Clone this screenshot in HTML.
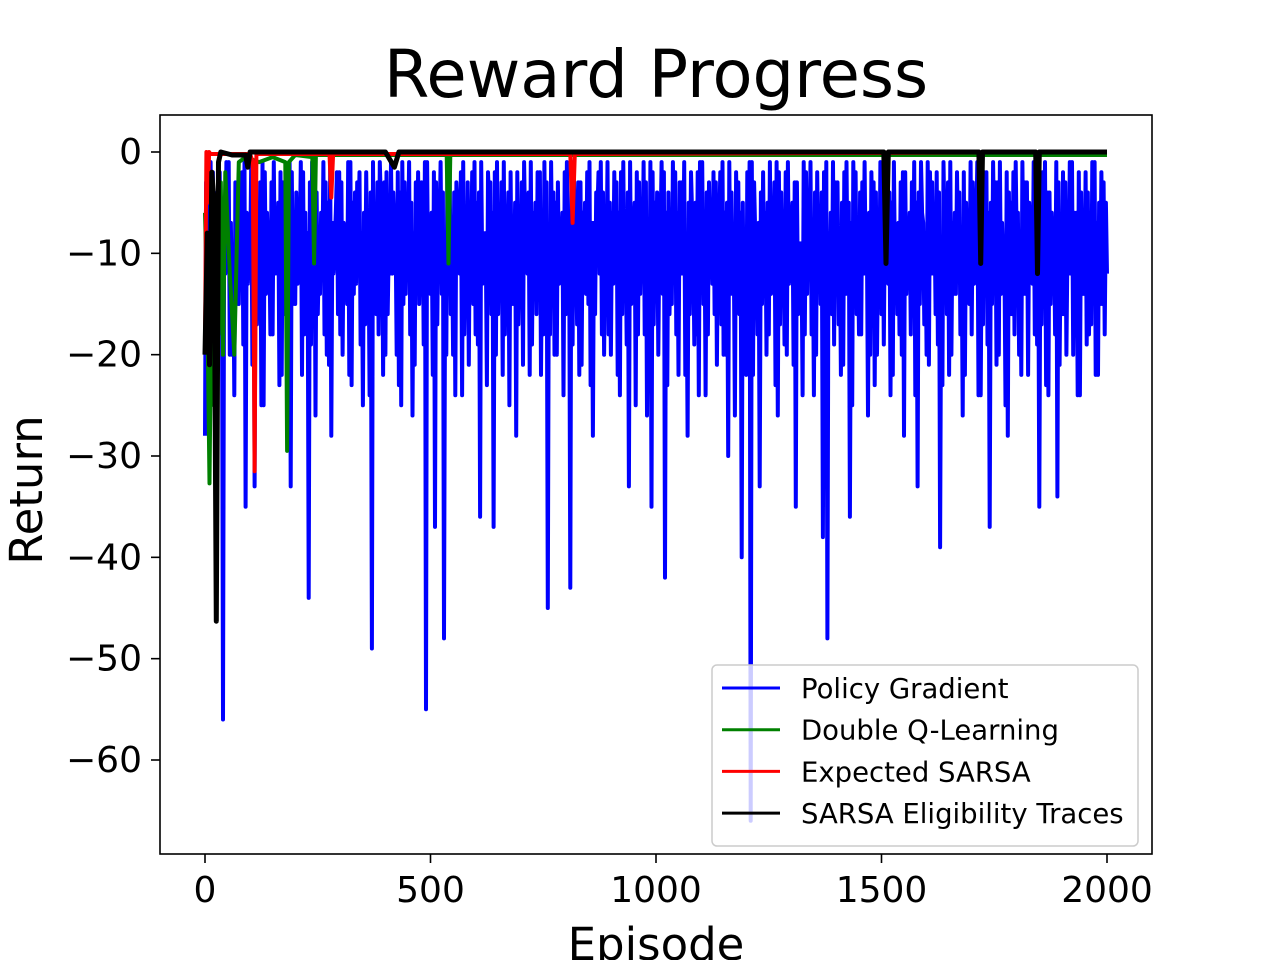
<!DOCTYPE html>
<html><head><meta charset="utf-8"><style>
body{margin:0;background:#fff;}
svg text{font-family:"DejaVu Sans","Liberation Sans",sans-serif;fill:#000;}
</style></head><body>
<svg id="chart" width="1280" height="960" viewBox="0 0 1280 960" xmlns="http://www.w3.org/2000/svg">
<rect width="1280" height="960" fill="#fff"/>
<text x="656" y="97" font-size="65.5" text-anchor="middle">Reward Progress</text>
<defs><clipPath id="plotclip"><rect x="160" y="115" width="992" height="739"/></clipPath></defs>
<g id="series" clip-path="url(#plotclip)"></g>
<rect x="160" y="115" width="992" height="739" fill="none" stroke="#000" stroke-width="1.6"/>
<g id="axes"></g>
<text transform="translate(42,490) rotate(-90)" font-size="45" text-anchor="middle">Return</text>
<text x="656" y="960" font-size="45" text-anchor="middle">Episode</text>
<g>
<rect x="712" y="665" width="426" height="181" rx="5" fill="#fff" fill-opacity="0.8" stroke="#ccc" stroke-width="1.5"/>
</g>
<g id="legend-entries"></g>
</svg>
<script>
const xTicks=[0,500,1000,1500,2000];
const yTicks=[0,-10,-20,-30,-40,-50,-60];
const seriesNames=["Policy Gradient","Double Q-Learning","Expected SARSA","SARSA Eligibility Traces"];
const seriesColors=["#0000ff","#008000","#ff0000","#000000"];
const blueLows=[-28,-5,-25,-12,-56,-10,-20,-15,-8,-35,
-12,-33,-14,-25,-10,-18,-12,-22,-9,-33,
-15,-10,-18,-44,-8,-16,-12,-20,-28,-6,
-18,-10,-22,-14,-8,-25,-12,-49,-16,-5,
-20,-12,-8,-23,-15,-10,-26,-12,-3,-55,
-14,-37,-8,-48,-12,-20,-6,-24,-14,-10,
-18,-36,-12,-5,-37,-16,-22,-10,-15,-28,
-12,-8,-22,-14,-6,-18,-45,-12,-20,-10,
-16,-43,-8,-22,-12,-15,-28,-6,-18,-12,
-20,-10,-24,-14,-33,-8,-18,-12,-26,-35,
-14,-8,-42,-16,-10,-22,-12,-28,-6,-18,
-12,-24,-10,-16,-8,-20,-30,-14,-10,-40,
-22,-66,-8,-33,-14,-18,-10,-26,-12,-20,
-8,-35,-14,-18,-10,-24,-12,-38,-48,-16,
-10,-22,-14,-36,-8,-18,-12,-26,-10,-20,
-16,-8,-24,-12,-18,-28,-10,-14,-33,-6,
-20,-12,-16,-39,-8,-22,-14,-10,-26,-12,
-18,-8,-24,-14,-37,-10,-20,-12,-28,-16,
-10,-22,-14,-8,-18,-35,-12,-24,-10,-34,
-16,-20,-12,-8,-24,-14,-18,-10,-22,-15,-12];
const blueHighs=[-3,-1,-8,-2,-5,-1,-10,-4,-2,-6,
-1,-7,-3,-2,-9,-1,-5,-3,-8,-2,
-4,-1,-6,-3,-2,-10,-1,-5,-7,-2,
-3,-8,-1,-4,-2,-6,-9,-1,-3,-5,
-2,-1,-7,-4,-3,-1,-8,-2,-5,-1,
-6,-3,-1,-9,-2,-4,-7,-1,-3,-2,
-5,-1,-8,-3,-2,-6,-1,-4,-10,-2,
-3,-7,-1,-5,-2,-1,-8,-4,-3,-6,
-1,-2,-9,-3,-5,-1,-7,-2,-4,-1,
-6,-3,-2,-8,-1,-5,-3,-1,-7,-2,
-4,-1,-6,-9,-2,-3,-1,-5,-8,-2,
-1,-4,-7,-3,-2,-6,-1,-10,-3,-5,
-2,-1,-8,-4,-6,-1,-3,-2,-7,-1,
-5,-3,-9,-2,-1,-4,-6,-2,-8,-1,
-3,-5,-1,-7,-2,-4,-1,-6,-3,-9,
-2,-1,-5,-8,-3,-2,-6,-1,-4,-7,
-1,-3,-2,-9,-5,-1,-6,-4,-2,-8,
-3,-1,-7,-2,-5,-3,-1,-10,-4,-2,
-6,-1,-3,-8,-2,-5,-1,-4,-7,-3,
-2,-9,-1,-6,-4,-2,-8,-1,-5,-3];
const blueMidLows=[-18,-14,-22,-16,-12,-20,-24,-15,-19,-13,
-21,-17,-25,-14,-18,-12,-23,-16,-20,-15,
-13,-22,-17,-19,-26,-14,-18,-21,-12,-16,
-20,-15,-23,-13,-19,-17,-24,-14,-18,-22,
-16,-12,-20,-25,-14,-18,-21,-15,-19,-13,
-22,-17,-14,-20,-16,-24,-12,-18,-21,-15,
-19,-13,-23,-16,-20,-14,-18,-25,-15,-17,
-21,-12,-19,-16,-22,-14,-18,-20,-13,-24,
-15,-19,-17,-21,-14,-23,-16,-12,-20,-18,
-13,-22,-16,-19,-15,-25,-14,-18,-21,-17,
-20,-14,-23,-15,-18,-12,-22,-16,-19,-24,
-15,-18,-13,-21,-17,-20,-14,-26,-16,-19,
-12,-22,-18,-15,-20,-14,-23,-17,-19,-13,
-21,-16,-24,-14,-18,-20,-15,-22,-13,-19,
-17,-21,-14,-25,-16,-18,-12,-20,-23,-15,
-19,-13,-22,-16,-20,-14,-18,-24,-15,-17,
-21,-12,-19,-23,-16,-20,-14,-18,-22,-15,
-13,-24,-17,-19,-15,-21,-14,-25,-16,-18,
-20,-14,-22,-13,-19,-17,-23,-15,-18,-21,
-16,-12,-20,-24,-14,-19,-17,-22,-15,-18];
const blueHighs2=[-6,-2,-4,-9,-1,-7,-3,-5,-1,-8,
-2,-5,-1,-6,-3,-9,-2,-4,-1,-7,
-5,-2,-8,-1,-4,-6,-3,-1,-9,-2,
-7,-1,-5,-3,-8,-2,-4,-6,-1,-3,
-9,-4,-2,-1,-6,-5,-3,-7,-1,-8,
-2,-6,-4,-1,-7,-3,-2,-9,-5,-1,
-4,-8,-2,-6,-1,-3,-7,-2,-5,-9,
-1,-4,-6,-2,-8,-3,-1,-5,-7,-2,
-9,-1,-3,-6,-2,-7,-4,-1,-8,-5,
-2,-6,-1,-4,-9,-2,-7,-3,-1,-5,
-8,-2,-4,-1,-6,-3,-9,-2,-5,-1,
-7,-3,-2,-8,-1,-5,-4,-2,-6,-9,
-1,-3,-7,-2,-5,-8,-1,-4,-2,-6,
-3,-9,-1,-5,-7,-2,-4,-1,-6,-3,
-8,-2,-5,-1,-9,-3,-7,-2,-4,-1,
-6,-4,-1,-7,-2,-9,-3,-5,-1,-8,
-2,-6,-4,-1,-3,-7,-2,-9,-5,-1,
-4,-8,-2,-6,-1,-3,-7,-2,-5,-1,
-9,-3,-5,-1,-7,-2,-4,-6,-1,-8,
-3,-1,-6,-2,-9,-4,-1,-7,-2,-5];
const greenEpisodes=[0,5,10,15,20,25,30,35,40,45,55,65,75,90,120,150,178,182,186,200,238,242,246,300,536,540,544,600,1000,1500,2000];
const greenValues=[-6,-15,-32.7,-10,-25,-5,-18,-3,-20,-2,-12,-20,-1,-0.5,-1,-0.5,-1,-29.5,-1,-0.3,-0.5,-11,-0.3,-0.3,-0.3,-11,-0.3,-0.3,-0.3,-0.3,-0.3];
const redEpisodes=[0,3,6,9,12,100,106,110,114,276,280,284,810,815,820,2000];
const redValues=[-19,0,-5,0,-0.2,-0.2,-1,-31.5,-0.2,-0.2,-4.5,-0.2,-0.2,-7,-0.2,0];
const blackEpisodes=[0,5,10,15,20,25,30,35,60,90,95,100,200,400,420,430,700,900,1200,1505,1510,1515,1716,1720,1724,1842,1846,1850,1950,2000];
const blackValues=[-20,-8,-21,-2,-5,-46.3,-1,0,-0.3,-0.3,-1.5,0,0,0,-1.5,0,0,0,0,0,-11,0,0,-11,0,0,-12,0,0,0];
const X=v=>205+v*(1107-205)/2000;
const Y=v=>152+(-v)*(760-152)/60;
const NS="http://www.w3.org/2000/svg";
const axes=document.getElementById('axes');
xTicks.forEach(t=>{
 const l=document.createElementNS(NS,'line');
 
 
 l.setAttribute('x1',X(t));l.setAttribute('x2',X(t));l.setAttribute('y1',854);l.setAttribute('y2',863);l.setAttribute('stroke','#000');l.setAttribute('stroke-width','1.6');axes.appendChild(l);
 const tx=document.createElementNS(NS,'text');
 
 
 tx.setAttribute('x',X(t));tx.setAttribute('y',902);tx.setAttribute('font-size','36');tx.setAttribute('text-anchor','middle');tx.textContent=t;axes.appendChild(tx);
});
yTicks.forEach(t=>{
 const l=document.createElementNS(NS,'line');
 
 
 l.setAttribute('x1',151);l.setAttribute('x2',160);l.setAttribute('y1',Y(t));l.setAttribute('y2',Y(t));l.setAttribute('stroke','#000');l.setAttribute('stroke-width','1.6');axes.appendChild(l);
 const tx=document.createElementNS(NS,'text');
 
 
 tx.setAttribute('x',142);tx.setAttribute('y',Y(t)+12);tx.setAttribute('font-size','36');tx.setAttribute('text-anchor','end');tx.textContent=(t<0?'\u2212'+(-t):t);axes.appendChild(tx);
});
const blueEp=[],blueVal=[];
blueLows.forEach((v,i)=>{
 blueEp.push(i*10);blueVal.push(v);
 if(i<blueHighs.length){
  blueEp.push(i*10+2.5);blueVal.push(blueHighs[i]);
  blueEp.push(i*10+5);blueVal.push(blueMidLows[i]);
  blueEp.push(i*10+7.5);blueVal.push(blueHighs2[i]);
 }
});
const g=document.getElementById('series');
function drawLine(eps,vals,color,name,w){
 const p=document.createElementNS(NS,'polyline');
 
 
 p.setAttribute('points',eps.map((e,i)=>X(e).toFixed(1)+','+Y(vals[i]).toFixed(1)).join(' '));
 p.setAttribute('fill','none');p.setAttribute('stroke',color);p.setAttribute('stroke-width',w);p.setAttribute('stroke-linejoin','round');
 g.appendChild(p);
}
drawLine(blueEp,blueVal,seriesColors[0],'policy-gradient-line',4);
drawLine(greenEpisodes,greenValues,seriesColors[1],'double-q-learning-line',4);
drawLine(redEpisodes,redValues,seriesColors[2],'expected-sarsa-line',4);
drawLine(blackEpisodes,blackValues,seriesColors[3],'sarsa-eligibility-traces-line',5);
const le=document.getElementById('legend-entries');
seriesNames.forEach((n,i)=>{
 const y=688+i*41.7;
 const l=document.createElementNS(NS,'line');
 
 
 l.setAttribute('x1',722);l.setAttribute('x2',780);l.setAttribute('y1',y);l.setAttribute('y2',y);l.setAttribute('stroke',seriesColors[i]);l.setAttribute('stroke-width','3');le.appendChild(l);
 const t=document.createElementNS(NS,'text');
 
 
 t.setAttribute('x',801);t.setAttribute('y',y+10);t.setAttribute('font-size','27.5');t.textContent=n;le.appendChild(t);
});
</script>
</body></html>
